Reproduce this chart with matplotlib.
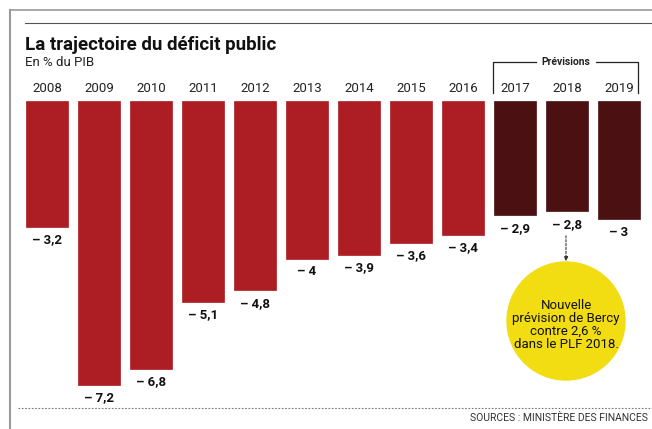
import matplotlib.pyplot as plt
from matplotlib.patches import Ellipse
from matplotlib.lines import Line2D

years = ["2008", "2009", "2010", "2011", "2012", "2013", "2014", "2015", "2016", "2017", "2018", "2019"]
deficit = [-3.2, -7.2, -6.8, -5.1, -4.8, -4.0, -3.9, -3.6, -3.4, -2.9, -2.8, -3.0]
labels = ["\u2013 3,2", "\u2013 7,2", "\u2013 6,8", "\u2013 5,1", "\u2013 4,8", "\u2013 4", "\u2013 3,9",
          "\u2013 3,6", "\u2013 3,4", "\u2013 2,9", "\u2013 2,8", "\u2013 3"]
forecast = [False] * 9 + [True] * 3

plt.rcParams['font.family'] = ['Roboto', 'DejaVu Sans']

W, H = 652, 429
fig = plt.figure(figsize=(W / 100, H / 100), dpi=100)
ax = fig.add_axes([0, 0, 1, 1])

# pixel -> data mapping
step = 52.0        # px between bars
x0 = 47.0          # px centre of first bar
yzero = 101.0      # px of value 0
unit = 39.4        # px per point of GDP
ax.set_xlim(-x0 / step, (W - x0) / step)
ax.set_ylim(-(H - yzero) / unit, yzero / unit)
ax.axis("off")

def px(x, y):
    return ((x - x0) / step, (yzero - y) / unit)

colors = ["#4a1012" if f else "#ad1d24" for f in forecast]
xs = list(range(len(years)))
ax.bar(xs, deficit, width=42 / step, color=colors, edgecolor=colors, linewidth=0.5, align="center")

for i, (v, lab) in enumerate(zip(deficit, labels)):
    ax.text(i, px(0, 88)[1], years[i], ha="center", va="center", fontsize=9.5, color="#222222")
    ax.text(i, v - 13 / unit, lab, ha="center", va="center", fontsize=9.5, fontweight="bold", color="#111111")

# frame lines
fig.add_artist(Line2D([10 / W, 10 / W], [0, 1 - 10 / H], color="#9a9a9a", lw=1.5))
fig.add_artist(Line2D([10 / W, 1], [1 - 10 / H, 1 - 10 / H], color="#9a9a9a", lw=1.2))
fig.add_artist(Line2D([25 / W, 1], [1 - 23 / H, 1 - 23 / H], color="#555555", lw=0.8))
fig.add_artist(Line2D([18 / W, 1], [1 - 408 / H, 1 - 408 / H], color="#777777", lw=0.8, ls=(0, (1.5, 1.5))))

fig.text(25 / W, 1 - 45 / H, "La trajectoire du déficit public", fontsize=13.5, fontweight="bold",
         va="center", ha="left", color="#111111")
fig.text(25 / W, 1 - 63 / H, "En % du PIB", fontsize=9.5, va="center", ha="left", color="#222222")
fig.text(648 / W, 1 - 418 / H, "SOURCES : MINISTÈRE DES FINANCES", fontsize=7.5, va="center", ha="right",
         color="#333333")

# Prévisions bracket
bl, br, by, bb = 493, 638, 62, 93
ax.plot([px(bl, bb)[0], px(bl, by)[0], px(536, by)[0]], [px(bl, bb)[1], px(bl, by)[1], px(536, by)[1]],
        color="#222222", lw=0.9)
ax.plot([px(596, by)[0], px(br, by)[0], px(br, bb)[0]], [px(596, by)[1], px(br, by)[1], px(br, bb)[1]],
        color="#222222", lw=0.9)
ax.text(px(566, 62)[0], px(566, 62)[1], "Prévisions", ha="center", va="center", fontsize=7.5,
        fontweight="bold", color="#222222")

# yellow bubble
cx, cy = px(566, 321)
ax.add_patch(Ellipse((cx, cy), 118 / step, 118 / unit, color="#f2dc12", zorder=2))
ax.text(cx, cy - 4 / unit, "Nouvelle\nprévision de Bercy\ncontre 2,6 %\ndans le PLF 2018.", ha="center",
        va="center", fontsize=9.5, color="#111111", linespacing=1.0, zorder=3)
ax.annotate("", xy=px(566, 264), xytext=px(566, 233),
            arrowprops=dict(arrowstyle="-|>", color="#333333", lw=0.8, ls=(0, (2, 1.5)),
                            mutation_scale=6))

fig.savefig("out.png", dpi=100)
